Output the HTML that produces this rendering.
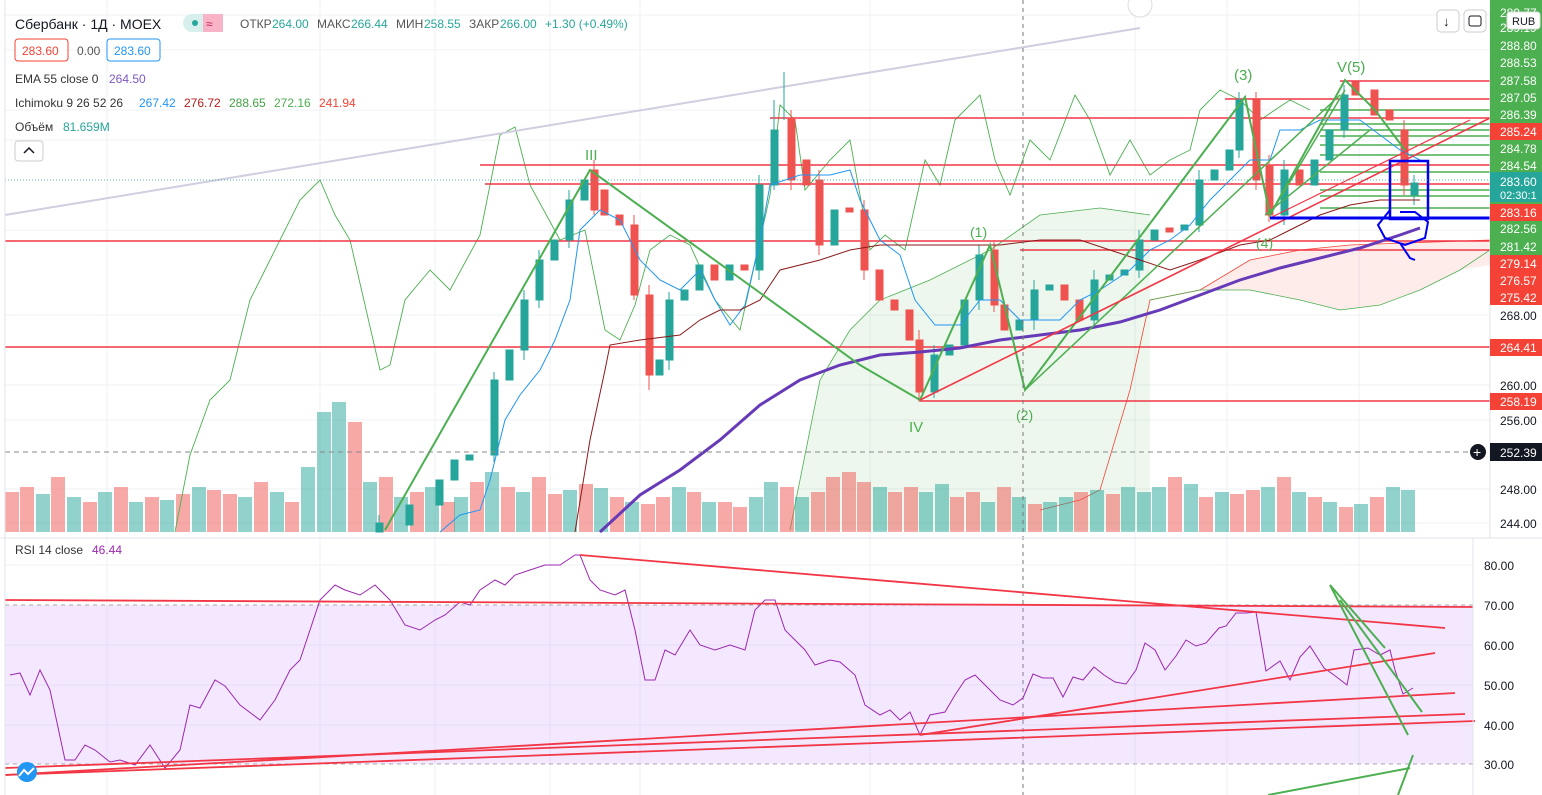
<!DOCTYPE html>
<html><head><meta charset="utf-8"><style>
html,body{margin:0;padding:0;background:#fff;width:1542px;height:795px;overflow:hidden}
svg{position:absolute;left:0;top:0}
text{font-family:"Liberation Sans","DejaVu Sans",sans-serif;font-size:12px}
</style></head><body>
<svg width="1542" height="795" xmlns="http://www.w3.org/2000/svg">
<g stroke="#eef0f3">
<line x1="107" y1="0" x2="107" y2="795"/><line x1="320" y1="0" x2="320" y2="795"/><line x1="435" y1="0" x2="435" y2="795"/><line x1="550" y1="0" x2="550" y2="795"/><line x1="640" y1="0" x2="640" y2="795"/><line x1="870" y1="0" x2="870" y2="795"/><line x1="1135" y1="0" x2="1135" y2="795"/><line x1="1227" y1="0" x2="1227" y2="795"/><line x1="1359" y1="0" x2="1359" y2="795"/>
<line x1="5" y1="15" x2="1490" y2="15"/><line x1="5" y1="50" x2="1490" y2="50"/><line x1="5" y1="110" x2="1490" y2="110"/><line x1="5" y1="140" x2="1490" y2="140"/><line x1="5" y1="230" x2="1490" y2="230"/><line x1="5" y1="315" x2="1490" y2="315"/><line x1="5" y1="385" x2="1490" y2="385"/><line x1="5" y1="420" x2="1490" y2="420"/><line x1="5" y1="489" x2="1490" y2="489"/><line x1="5" y1="523" x2="1490" y2="523"/>
<line x1="5" y1="565" x2="1473" y2="565"/><line x1="5" y1="645" x2="1473" y2="645"/><line x1="5" y1="685" x2="1473" y2="685"/><line x1="5" y1="725" x2="1473" y2="725"/>
</g>
<polygon points="790,530 820,380 850,330 880,300 930,280 990,250 1040,215 1100,208 1150,215 1150,530" fill="rgba(76,175,80,0.10)"/>
<polyline points="790,530 820,380 850,330 880,300 930,280 990,250 1040,215 1100,208 1150,215" stroke="#4caf50" stroke-width="0.8" fill="none"/>
<polygon points="1150,300 1200,290 1250,260 1300,250 1350,245 1490,240 1490,265 1460,270 1420,290 1380,305 1340,310 1300,300 1250,290 1200,290" fill="rgba(244,67,54,0.10)"/>
<polyline points="1040,510 1080,500 1100,490 1130,390 1150,300 1200,290 1250,260 1300,250 1350,245 1490,240" stroke="#f44336" stroke-width="0.8" fill="none"/>
<polyline points="1150,300 1200,290 1250,290 1300,300 1340,310 1380,305 1420,290 1460,270 1490,250" stroke="#4caf50" stroke-width="0.8" fill="none"/>
<g fill="rgba(239,83,80,0.5)">
<rect x="5" y="492" width="14" height="40"/><rect x="20" y="487" width="14" height="45"/><rect x="51" y="477" width="14" height="55"/><rect x="83" y="502" width="14" height="30"/><rect x="114" y="487" width="14" height="45"/><rect x="145" y="497" width="14" height="35"/><rect x="176" y="494" width="14" height="38"/><rect x="207" y="490" width="14" height="42"/><rect x="223" y="494" width="14" height="38"/><rect x="254" y="482" width="14" height="50"/><rect x="285" y="502" width="14" height="30"/><rect x="348" y="422" width="14" height="110"/><rect x="379" y="477" width="14" height="55"/><rect x="410" y="492" width="14" height="40"/><rect x="441" y="502" width="14" height="30"/><rect x="470" y="482" width="14" height="50"/><rect x="501" y="487" width="14" height="45"/><rect x="532" y="477" width="14" height="55"/><rect x="548" y="494" width="14" height="38"/><rect x="579" y="484" width="14" height="48"/><rect x="610" y="497" width="14" height="35"/><rect x="641" y="504" width="14" height="28"/><rect x="656" y="497" width="14" height="35"/><rect x="687" y="492" width="14" height="40"/><rect x="718" y="502" width="14" height="30"/><rect x="733" y="507" width="14" height="25"/><rect x="780" y="487" width="14" height="45"/><rect x="811" y="492" width="14" height="40"/><rect x="826" y="477" width="14" height="55"/><rect x="842" y="472" width="14" height="60"/><rect x="857" y="482" width="14" height="50"/><rect x="888" y="492" width="14" height="40"/><rect x="904" y="487" width="14" height="45"/><rect x="950" y="497" width="14" height="35"/><rect x="966" y="492" width="14" height="40"/><rect x="997" y="487" width="14" height="45"/><rect x="1028" y="504" width="14" height="28"/><rect x="1074" y="492" width="14" height="40"/><rect x="1106" y="494" width="14" height="38"/><rect x="1168" y="477" width="14" height="55"/><rect x="1199" y="497" width="14" height="35"/><rect x="1230" y="494" width="14" height="38"/><rect x="1246" y="490" width="14" height="42"/><rect x="1277" y="477" width="14" height="55"/><rect x="1308" y="497" width="14" height="35"/><rect x="1339" y="507" width="14" height="25"/><rect x="1370" y="497" width="14" height="35"/>
</g>
<g fill="rgba(38,166,154,0.5)">
<rect x="36" y="494" width="14" height="38"/><rect x="67" y="497" width="14" height="35"/><rect x="98" y="492" width="14" height="40"/><rect x="129" y="502" width="14" height="30"/><rect x="160" y="500" width="14" height="32"/><rect x="192" y="487" width="14" height="45"/><rect x="238" y="497" width="14" height="35"/><rect x="270" y="492" width="14" height="40"/><rect x="301" y="467" width="14" height="65"/><rect x="317" y="412" width="14" height="120"/><rect x="332" y="402" width="14" height="130"/><rect x="363" y="482" width="14" height="50"/><rect x="394" y="497" width="14" height="35"/><rect x="425" y="487" width="14" height="45"/><rect x="454" y="497" width="14" height="35"/><rect x="485" y="472" width="14" height="60"/><rect x="516" y="492" width="14" height="40"/><rect x="563" y="490" width="14" height="42"/><rect x="594" y="488" width="14" height="44"/><rect x="625" y="502" width="14" height="30"/><rect x="672" y="487" width="14" height="45"/><rect x="702" y="502" width="14" height="30"/><rect x="749" y="497" width="14" height="35"/><rect x="764" y="482" width="14" height="50"/><rect x="795" y="497" width="14" height="35"/><rect x="873" y="487" width="14" height="45"/><rect x="919" y="492" width="14" height="40"/><rect x="935" y="484" width="14" height="48"/><rect x="981" y="502" width="14" height="30"/><rect x="1012" y="497" width="14" height="35"/><rect x="1043" y="502" width="14" height="30"/><rect x="1059" y="497" width="14" height="35"/><rect x="1090" y="490" width="14" height="42"/><rect x="1121" y="487" width="14" height="45"/><rect x="1137" y="492" width="14" height="40"/><rect x="1152" y="487" width="14" height="45"/><rect x="1184" y="484" width="14" height="48"/><rect x="1215" y="492" width="14" height="40"/><rect x="1261" y="487" width="14" height="45"/><rect x="1292" y="492" width="14" height="40"/><rect x="1323" y="502" width="14" height="30"/><rect x="1354" y="504" width="14" height="28"/><rect x="1386" y="487" width="14" height="45"/><rect x="1401" y="490" width="14" height="42"/>
</g>
<polyline points="175,532 190,455 210,400 230,380 250,300 270,260 300,200 320,180 335,215 350,240 380,370 390,365 405,300 430,270 450,290 480,235 500,135 515,127 530,185 560,240 585,230 605,330 620,340 635,305 650,250 670,235 690,245 715,300 740,330 770,195 780,105 795,120 805,190 830,160 850,140 870,250 885,235 905,250 925,160 940,185 955,120 980,95 995,160 1010,195 1030,140 1050,160 1075,95 1090,120 1110,175 1130,140 1150,175 1170,160 1190,150 1200,110 1220,90 1240,100 1260,120 1290,100 1310,110" stroke="#4caf50" stroke-width="0.9" fill="none"/>
<line x1="5" y1="215" x2="1140" y2="28" stroke="#cfcfe0" stroke-width="2"/>
<g stroke="#f23645" stroke-width="1.6">
<line x1="770" y1="118" x2="1490" y2="118"/><line x1="480" y1="165" x2="1490" y2="165"/><line x1="485" y1="184" x2="1490" y2="184"/><line x1="5" y1="241" x2="1490" y2="241"/><line x1="5" y1="347" x2="1490" y2="347"/><line x1="920" y1="401" x2="1490" y2="401"/><line x1="1020" y1="250" x2="1490" y2="250"/><line x1="1225" y1="99" x2="1490" y2="99"/><line x1="1340" y1="81" x2="1490" y2="81"/>
</g>
<g stroke="#4caf50" stroke-width="1.4">
<line x1="1320" y1="110" x2="1490" y2="110"/><line x1="1320" y1="124" x2="1490" y2="124"/><line x1="1320" y1="130" x2="1490" y2="130"/><line x1="1320" y1="136" x2="1490" y2="136"/><line x1="1320" y1="145" x2="1490" y2="145"/><line x1="1320" y1="155" x2="1490" y2="155"/><line x1="1320" y1="172" x2="1490" y2="172"/><line x1="1320" y1="190" x2="1490" y2="190"/><line x1="1320" y1="196" x2="1490" y2="196"/><line x1="1320" y1="208" x2="1490" y2="208"/>
</g>
<g fill="#26a69a" stroke="#26a69a">
<rect x="376" y="523" width="7" height="9"/><rect x="406" y="505" width="7" height="20"/><rect x="436" y="480" width="7" height="25"/><rect x="451" y="460" width="7" height="20"/><rect x="466" y="455" width="7" height="5"/><rect x="491" y="380" width="7" height="75"/><rect x="506" y="350" width="7" height="30"/><rect x="521" y="300" width="7" height="50"/><rect x="536" y="260" width="7" height="40"/><rect x="551" y="240" width="7" height="20"/><rect x="566" y="200" width="7" height="40"/><rect x="581" y="180" width="7" height="20"/><rect x="656" y="360" width="7" height="15"/><rect x="666" y="300" width="7" height="60"/><rect x="681" y="290" width="7" height="10"/><rect x="696" y="265" width="7" height="25"/><rect x="726" y="265" width="7" height="15"/><rect x="756" y="185" width="7" height="85"/><rect x="771" y="130" width="7" height="55"/><rect x="831" y="210" width="7" height="35"/><rect x="931" y="355" width="7" height="37"/><rect x="946" y="345" width="7" height="10"/><rect x="961" y="300" width="7" height="45"/><rect x="976" y="255" width="7" height="45"/><rect x="1016" y="320" width="7" height="10"/><rect x="1031" y="290" width="7" height="30"/><rect x="1046" y="285" width="7" height="5"/><rect x="1091" y="280" width="7" height="40"/><rect x="1106" y="275" width="7" height="5"/><rect x="1121" y="270" width="7" height="5"/><rect x="1136" y="240" width="7" height="30"/><rect x="1151" y="230" width="7" height="10"/><rect x="1181" y="225" width="7" height="5"/><rect x="1196" y="180" width="7" height="45"/><rect x="1211" y="170" width="7" height="10"/><rect x="1226" y="150" width="7" height="20"/><rect x="1236" y="100" width="7" height="50"/><rect x="1281" y="170" width="7" height="45"/><rect x="1311" y="160" width="7" height="25"/><rect x="1326" y="130" width="7" height="30"/><rect x="1341" y="95" width="7" height="35"/><rect x="1411" y="183" width="7" height="12"/>
</g>
<g stroke="#26a69a">
<line x1="379" y1="515" x2="379" y2="532"/><line x1="494" y1="372" x2="494" y2="462"/><line x1="524" y1="290" x2="524" y2="360"/><line x1="539" y1="250" x2="539" y2="308"/><line x1="569" y1="190" x2="569" y2="248"/><line x1="669" y1="292" x2="669" y2="370"/><line x1="759" y1="175" x2="759" y2="280"/><line x1="774" y1="100" x2="774" y2="190"/><line x1="784" y1="72" x2="784" y2="120"/><line x1="934" y1="345" x2="934" y2="398"/><line x1="979" y1="245" x2="979" y2="310"/><line x1="1034" y1="280" x2="1034" y2="330"/><line x1="1094" y1="270" x2="1094" y2="328"/><line x1="1139" y1="230" x2="1139" y2="278"/><line x1="1199" y1="170" x2="1199" y2="232"/><line x1="1239" y1="92" x2="1239" y2="158"/><line x1="1284" y1="160" x2="1284" y2="225"/><line x1="1344" y1="85" x2="1344" y2="138"/><line x1="1414" y1="175" x2="1414" y2="205"/>
</g>
<g fill="#ef5350" stroke="#ef5350">
<rect x="591" y="170" width="7" height="40"/><rect x="601" y="190" width="7" height="25"/><rect x="616" y="215" width="7" height="10"/><rect x="631" y="225" width="7" height="70"/><rect x="646" y="295" width="7" height="80"/><rect x="711" y="265" width="7" height="15"/><rect x="741" y="265" width="7" height="5"/><rect x="788" y="118" width="7" height="62"/><rect x="803" y="160" width="7" height="25"/><rect x="816" y="180" width="7" height="65"/><rect x="846" y="208" width="7" height="4"/><rect x="861" y="210" width="7" height="60"/><rect x="876" y="270" width="7" height="30"/><rect x="891" y="300" width="7" height="10"/><rect x="906" y="310" width="7" height="30"/><rect x="916" y="340" width="7" height="52"/><rect x="991" y="250" width="7" height="55"/><rect x="1001" y="305" width="7" height="25"/><rect x="1061" y="285" width="7" height="15"/><rect x="1076" y="300" width="7" height="20"/><rect x="1166" y="228" width="7" height="4"/><rect x="1253" y="100" width="7" height="80"/><rect x="1266" y="165" width="7" height="50"/><rect x="1296" y="170" width="7" height="15"/><rect x="1352" y="82" width="7" height="13"/><rect x="1371" y="90" width="7" height="25"/><rect x="1386" y="110" width="7" height="10"/><rect x="1401" y="130" width="7" height="55"/>
</g>
<g stroke="#ef5350">
<line x1="594" y1="160" x2="594" y2="215"/><line x1="634" y1="215" x2="634" y2="300"/><line x1="649" y1="285" x2="649" y2="390"/><line x1="791" y1="110" x2="791" y2="190"/><line x1="819" y1="170" x2="819" y2="255"/><line x1="864" y1="200" x2="864" y2="280"/><line x1="919" y1="330" x2="919" y2="402"/><line x1="994" y1="240" x2="994" y2="312"/><line x1="1256" y1="92" x2="1256" y2="190"/><line x1="1269" y1="155" x2="1269" y2="222"/><line x1="1404" y1="120" x2="1404" y2="195"/>
</g>
<polyline points="440,532 460,515 480,510 490,480 505,420 520,395 540,370 555,340 570,300 580,230 600,210 620,220 640,260 660,280 680,290 700,270 715,300 730,325 745,305 760,240 770,185 800,175 830,175 850,170 860,200 880,240 900,255 915,300 935,325 960,325 980,300 1000,300 1020,320 1040,320 1060,320 1080,300 1100,290 1130,270 1150,250 1170,240 1190,225 1210,200 1230,180 1250,160 1270,160 1280,130 1300,130 1320,120 1340,120 1360,120 1380,135 1400,150 1420,160" stroke="#2196f3" fill="none"/>
<polyline points="575,532 590,440 605,370 610,345 640,340 680,335 700,320 720,310 740,310 760,300 780,270 820,260 850,250 880,245 920,245 960,245 1000,245 1040,240 1080,240 1110,250 1140,260 1170,270 1200,260 1240,245 1270,240 1290,230 1320,215 1350,205 1380,200 1420,200" stroke="#8b1a1a" fill="none"/>
<polyline points="600,532 640,495 680,470 720,440 760,405 800,380 840,365 880,355 920,352 960,348 1000,340 1040,335 1080,330 1120,322 1160,310 1200,295 1240,280 1280,268 1320,258 1360,248 1400,235 1420,228" stroke="#673ab7" stroke-width="3" fill="none"/>
<polyline points="385,530 590,170 860,365 920,400 990,245 1025,390 1245,97 1270,215 1345,80 1375,110 1405,150" stroke="#4caf50" stroke-width="2" fill="none"/>
<line x1="1270" y1="215" x2="1345" y2="90" stroke="#4caf50" stroke-width="1.5"/><line x1="1025" y1="390" x2="1340" y2="95" stroke="#4caf50" stroke-width="1.5"/><line x1="1265" y1="215" x2="1370" y2="130" stroke="#4caf50" stroke-width="1.5"/>
<line x1="920" y1="400" x2="1490" y2="118" stroke="#f23645" stroke-width="1.6"/><line x1="1270" y1="218" x2="1470" y2="120" stroke="#f23645" stroke-width="1.2"/>
<line x1="1270" y1="218" x2="1490" y2="218" stroke="#0000ee" stroke-width="3"/>
<rect x="1390" y="161" width="38" height="58" fill="none" stroke="#0000ee" stroke-width="2.5"/>
<polyline points="1390,210 1378,225 1385,238 1405,245 1425,238 1428,222 1415,212 1400,212" stroke="#0000ee" stroke-width="2" fill="none"/>
<polyline points="1400,243 1410,258 1415,260" stroke="#0000ee" stroke-width="2" fill="none"/>
<g fill="#4caf50">
<text x="585" y="160" style="font-size:15px">III</text><text x="1234" y="80" style="font-size:15px">(3)</text><text x="1337" y="72" style="font-size:15px">V(5)</text><text x="970" y="237" style="font-size:14px">(1)</text><text x="1016" y="420" style="font-size:14px">(2)</text><text x="909" y="432" style="font-size:15px">IV</text><text x="1256" y="248" style="font-size:14px">(4)</text>
</g>
<line x1="1023" y1="0" x2="1023" y2="795" stroke="#777" stroke-dasharray="4,4"/>
<line x1="5" y1="452" x2="1490" y2="452" stroke="#888" stroke-dasharray="5,4"/>
<line x1="5" y1="180" x2="1490" y2="180" stroke="#26a69a" stroke-width="0.8" stroke-dasharray="1,2"/>
<line x1="0" y1="538" x2="1542" y2="538" stroke="#e0e3eb"/>
<rect x="5" y="605" width="1468" height="159" fill="rgba(200,150,255,0.22)"/>
<line x1="5" y1="605" x2="1473" y2="605" stroke="#aaa" stroke-dasharray="4,4"/><line x1="5" y1="764" x2="1473" y2="764" stroke="#aaa" stroke-dasharray="4,4"/>
<polyline points="10,675 20,673 30,695 40,670 50,690 65,760 75,760 85,745 95,750 110,762 120,760 135,765 150,745 165,768 180,750 190,705 200,708 215,680 225,686 240,705 260,720 275,700 290,670 300,660 310,630 320,600 335,585 345,590 360,595 375,585 390,600 405,625 420,630 435,620 445,615 460,602 470,605 480,590 495,580 505,585 515,575 530,570 545,565 560,565 575,555 580,555 590,580 600,590 615,595 625,590 635,630 645,680 655,680 665,650 675,655 690,630 700,645 715,650 730,645 745,650 755,610 765,600 775,600 785,630 795,640 805,650 815,665 830,660 840,662 855,675 865,705 880,715 890,710 900,720 910,712 920,735 930,715 945,712 955,695 965,680 975,675 990,690 1000,700 1013,705 1023,698 1033,674 1043,678 1053,678 1063,697 1073,677 1083,680 1094,667 1104,675 1115,682 1126,684 1136,670 1145,643 1155,650 1165,670 1176,656 1186,640 1196,646 1206,643 1219,628 1226,626 1236,613 1246,613 1256,612 1266,671 1280,661 1290,680 1300,657 1310,646 1324,668 1334,675 1347,685 1354,650 1368,648 1380,655 1390,650 1395,670 1403,694 1413,688" stroke="#9c27b0" fill="none"/>
<g stroke="#f23645" stroke-width="1.8">
<line x1="580" y1="555" x2="1445" y2="628"/><line x1="5" y1="600" x2="1473" y2="607"/><line x1="920" y1="735" x2="1435" y2="653"/><line x1="5" y1="775" x2="1455" y2="693"/><line x1="5" y1="768" x2="1465" y2="714"/><line x1="5" y1="775" x2="1475" y2="721"/>
</g>
<g stroke="#4caf50" stroke-width="2">
<line x1="1330" y1="585" x2="1408" y2="735"/><line x1="1340" y1="600" x2="1422" y2="712"/><line x1="1330" y1="585" x2="1385" y2="648"/><line x1="1268" y1="795" x2="1410" y2="768"/><line x1="1398" y1="795" x2="1413" y2="755"/>
</g>
<line x1="1490" y1="0" x2="1490" y2="538" stroke="#e0e3eb"/><line x1="1473" y1="538" x2="1473" y2="795" stroke="#e0e3eb"/><line x1="5" y1="0" x2="5" y2="795" stroke="#e0e3eb"/>
<rect x="1490" y="0" width="52" height="300" fill="#4caf50"/>
<rect x="1490" y="123" width="52" height="17" fill="#f44336"/><rect x="1490" y="204" width="52" height="17" fill="#f44336"/><rect x="1490" y="255" width="52" height="50" fill="#f44336"/>
<rect x="1490" y="172" width="52" height="30" fill="#26a69a"/>
<rect x="1490" y="339" width="52" height="17" fill="#f44336"/><rect x="1490" y="393" width="52" height="17" fill="#f44336"/><rect x="1490" y="443" width="52" height="18" fill="#131722"/>
<g fill="#fff">
<text x="1500" y="17">289.77</text><text x="1500" y="32">289.19</text><text x="1500" y="50">288.80</text><text x="1500" y="67">288.53</text><text x="1500" y="85">287.58</text><text x="1500" y="102">287.05</text><text x="1500" y="119">286.39</text><text x="1500" y="136">285.24</text><text x="1500" y="153">284.78</text><text x="1500" y="170">284.54</text><text x="1500" y="186">283.60</text><text x="1500" y="199" style="font-size:11px">02:30:1</text><text x="1500" y="217">283.16</text><text x="1500" y="233">282.56</text><text x="1500" y="251">281.42</text><text x="1500" y="268">279.14</text><text x="1500" y="285">276.57</text><text x="1500" y="302">275.42</text><text x="1500" y="352">264.41</text><text x="1500" y="406">258.19</text><text x="1500" y="457">252.39</text>
</g>
<circle cx="1478" cy="452" r="8" fill="#131722"/><text x="1473" y="457" fill="#fff" style="font-size:14px">+</text>
<g fill="#131722"><text x="1500" y="320">268.00</text><text x="1500" y="390">260.00</text><text x="1500" y="425">256.00</text><text x="1500" y="494">248.00</text><text x="1500" y="528">244.00</text>
<text x="1484" y="570">80.00</text><text x="1484" y="610">70.00</text><text x="1484" y="650">60.00</text><text x="1484" y="690">50.00</text><text x="1484" y="730">40.00</text><text x="1484" y="769">30.00</text></g>
<rect x="1507" y="12" width="33" height="17" rx="3" fill="#fff" stroke="#ddd"/><text x="1512" y="25" fill="#131722" style="font-size:11px">RUB</text>
<rect x="1437" y="10" width="22" height="22" rx="4" fill="#fff" stroke="#ccc"/><text x="1443" y="26" fill="#131722" style="font-size:13px">↓</text>
<rect x="1464" y="10" width="22" height="22" rx="4" fill="#fff" stroke="#ccc"/><rect x="1469" y="16" width="12" height="10" rx="2" fill="none" stroke="#131722"/>
<circle cx="1140" cy="5" r="12" fill="#fff" stroke="#ddd"/>
<text x="15" y="29" fill="#131722" style="font-size:14px">Сбербанк · 1Д · MOEX</text>
<rect x="183" y="14" width="40" height="18" rx="9" fill="#d7f0ed"/><rect x="203" y="14" width="20" height="18" fill="#f8b4c6"/><circle cx="195" cy="23" r="3" fill="#26a69a"/><text x="206" y="28" fill="#c2185b">≈</text>
<text x="240" y="28" fill="#555">ОТКР</text><text x="272" y="28" fill="#26a69a">264.00</text><text x="317" y="28" fill="#555">МАКС</text><text x="351" y="28" fill="#26a69a">266.44</text><text x="396" y="28" fill="#555">МИН</text><text x="424" y="28" fill="#26a69a">258.55</text><text x="469" y="28" fill="#555">ЗАКР</text><text x="500" y="28" fill="#26a69a">266.00</text><text x="545" y="28" fill="#26a69a">+1.30 (+0.49%)</text>
<rect x="15" y="39" width="53" height="22" rx="3" fill="#fff" stroke="#f44336"/><text x="22" y="55" fill="#f44336">283.60</text><text x="77" y="55" fill="#555">0.00</text>
<rect x="107" y="39" width="53" height="22" rx="3" fill="#fff" stroke="#2196f3"/><text x="114" y="55" fill="#2196f3">283.60</text>
<text x="15" y="83" fill="#333">EMA 55 close 0</text><text x="109" y="83" fill="#7e57c2">264.50</text>
<text x="15" y="107" fill="#333">Ichimoku 9 26 52 26</text><text x="139" y="107" fill="#2196f3">267.42</text><text x="184" y="107" fill="#b71c1c">276.72</text><text x="229" y="107" fill="#43a047">288.65</text><text x="274" y="107" fill="#4caf50">272.16</text><text x="319" y="107" fill="#f44336">241.94</text>
<text x="15" y="131" fill="#333">Объём</text><text x="63" y="131" fill="#26a69a">81.659M</text>
<rect x="15" y="141" width="28" height="20" rx="3" fill="#fff" stroke="#ccc"/><polyline points="24,153 29,148 34,153" stroke="#131722" stroke-width="1.5" fill="none"/>
<text x="15" y="554" fill="#333">RSI 14 close</text><text x="92" y="554" fill="#9c27b0">46.44</text>
<circle cx="27" cy="772" r="10" fill="#2196f3"/><polyline points="19,776 24,770 28,774 34,768" stroke="#fff" stroke-width="2" fill="none"/>
</svg>
</body></html>
